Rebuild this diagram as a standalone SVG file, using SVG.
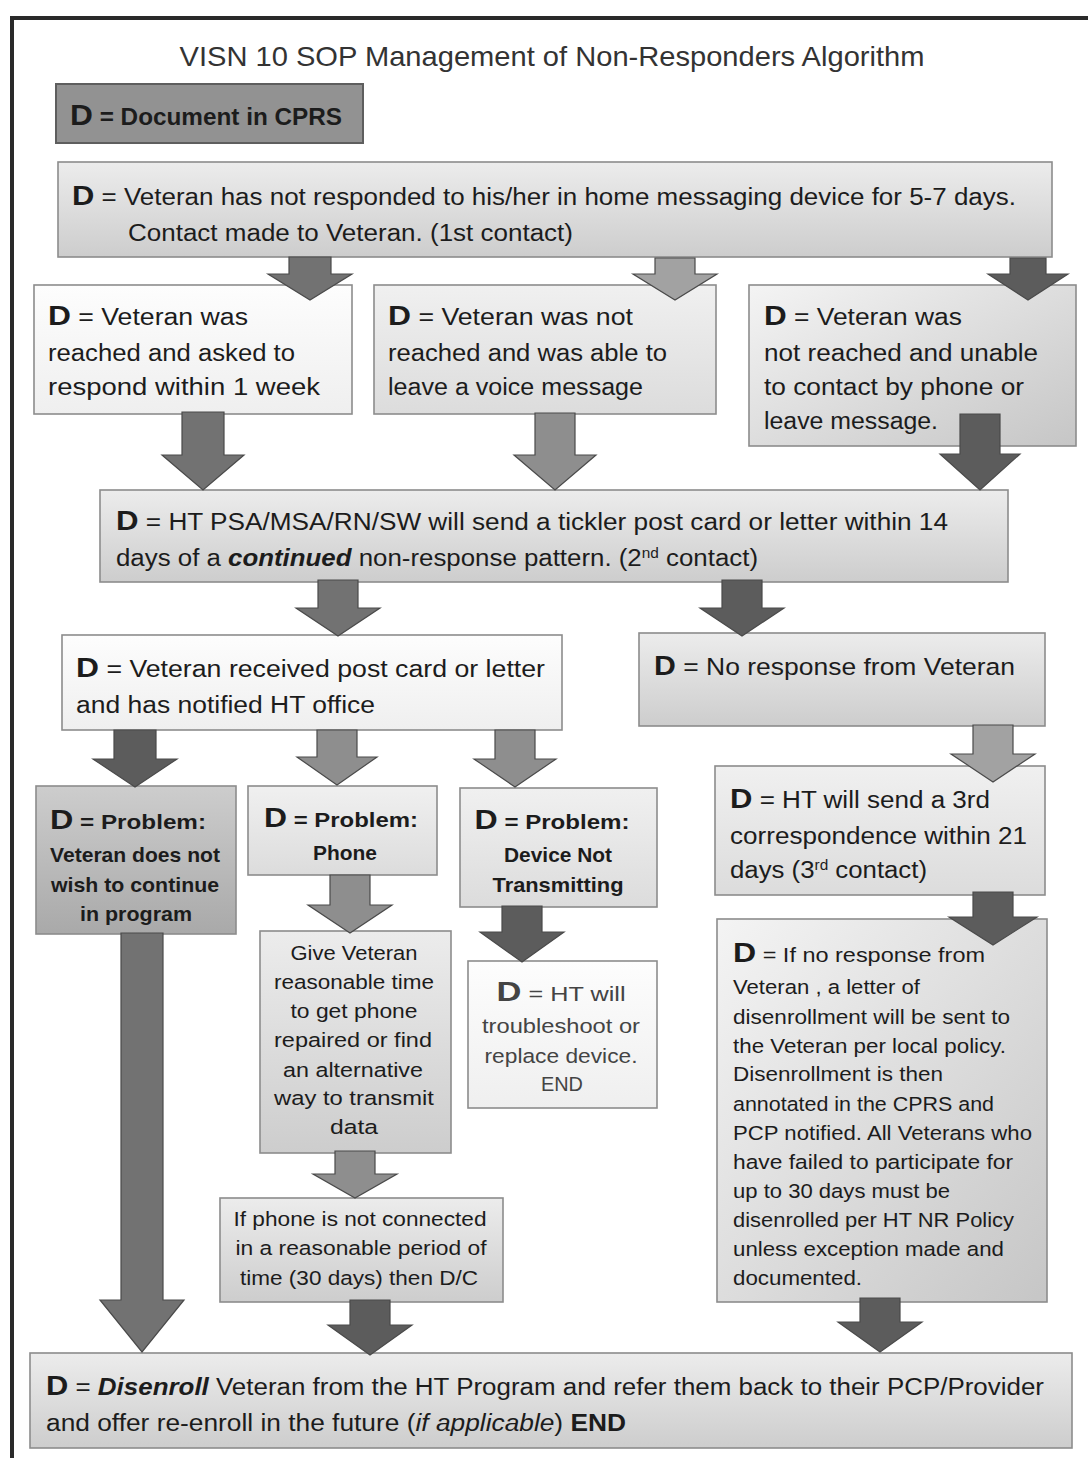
<svg xmlns="http://www.w3.org/2000/svg" width="1088" height="1458" viewBox="0 0 1088 1458">
<defs>
<linearGradient id="gWhite" x1="0" y1="0" x2="0" y2="1"><stop offset="0" stop-color="#fdfdfd"/><stop offset="1" stop-color="#efefef"/></linearGradient>
<linearGradient id="gLight" x1="0" y1="0" x2="0" y2="1"><stop offset="0" stop-color="#f0f0f0"/><stop offset="1" stop-color="#dcdcdc"/></linearGradient>
<linearGradient id="gMed" x1="0" y1="0" x2="0" y2="1"><stop offset="0" stop-color="#ececec"/><stop offset="1" stop-color="#cdcdcd"/></linearGradient>
<linearGradient id="gDiag" x1="0" y1="0" x2="1" y2="1"><stop offset="0" stop-color="#f4f4f4"/><stop offset="1" stop-color="#c6c6c6"/></linearGradient>
<linearGradient id="gDark" x1="0" y1="0" x2="0" y2="1"><stop offset="0" stop-color="#cdcdcd"/><stop offset="1" stop-color="#a9a9a9"/></linearGradient>
<style>
text{font-family:"Liberation Sans",Arial,sans-serif;fill:#1c1c1c;}
.box{stroke:#8c8c8c;stroke-width:1.6;}
.t22{font-size:23.5px;}
.t23{font-size:24.5px;}
.t20{font-size:21px;}
.t19{font-size:20.5px;}
.d{font-weight:bold;font-size:28px;}
.b{font-weight:bold;}
.c{text-anchor:middle;}
.arr{stroke:#4a4a4a;stroke-width:1.2;}
.a1{fill:#5c5c5c;}
.a2{fill:#727272;}
.a3{fill:#8e8e8e;}
.a4{fill:#a2a2a2;}
</style>
</defs>
<rect width="1088" height="1458" fill="#ffffff"/>
<g id="frame">
<rect x="10" y="16" width="1078" height="4" fill="#2a2a2a"/>
<rect x="10" y="16" width="4" height="1442" fill="#2a2a2a"/>
</g>
<g id="title"><text x="552" y="66" class="c" style="font-size:28px;fill:#333" textLength="745" lengthAdjust="spacingAndGlyphs">VISN 10 SOP Management of Non-Responders Algorithm</text></g>
<g id="legend">
<rect x="56" y="84" width="307" height="59" fill="#929292" stroke="#5e5e5e" stroke-width="2"/>
<text x="70" y="125" style="font-size:23px" class="b" textLength="272" lengthAdjust="spacingAndGlyphs"><tspan style="font-size:30px">D</tspan> = Document in CPRS</text>
</g>
<g id="n_start">
<rect class="box" x="58" y="162" width="994" height="95" fill="url(#gMed)"/>
<text x="72" y="205" class="t22" textLength="944" lengthAdjust="spacingAndGlyphs"><tspan class="d">D</tspan> = Veteran has not responded to his/her in home messaging device for 5-7 days.</text>
<text x="128" y="241" class="t22" textLength="445" lengthAdjust="spacingAndGlyphs">Contact made to Veteran. (1st contact)</text>
</g>
<g id="n_reached">
<rect class="box" x="34" y="285" width="318" height="129" fill="url(#gWhite)"/>
<text x="48" y="325" class="t22" textLength="200" lengthAdjust="spacingAndGlyphs"><tspan class="d">D</tspan> = Veteran was</text>
<text x="48" y="361" class="t22" textLength="247" lengthAdjust="spacingAndGlyphs">reached and asked to</text>
<text x="48" y="395" class="t22" textLength="272" lengthAdjust="spacingAndGlyphs">respond  within 1 week</text>
</g>
<g id="n_voicemsg">
<rect class="box" x="374" y="285" width="342" height="129" fill="url(#gLight)"/>
<text x="388" y="325" class="t22" textLength="245" lengthAdjust="spacingAndGlyphs"><tspan class="d">D</tspan> = Veteran was not</text>
<text x="388" y="361" class="t22" textLength="279" lengthAdjust="spacingAndGlyphs">reached and was able to</text>
<text x="388" y="395" class="t22" textLength="255" lengthAdjust="spacingAndGlyphs">leave a voice message</text>
</g>
<g id="n_notreached">
<rect class="box" x="749" y="285" width="327" height="161" fill="url(#gDiag)"/>
<text x="764" y="325" class="t22" textLength="198" lengthAdjust="spacingAndGlyphs"><tspan class="d">D</tspan> = Veteran was</text>
<text x="764" y="361" class="t22" textLength="274" lengthAdjust="spacingAndGlyphs">not reached and unable</text>
<text x="764" y="395" class="t22" textLength="260" lengthAdjust="spacingAndGlyphs">to contact by phone or</text>
<text x="764" y="429" class="t22" textLength="174" lengthAdjust="spacingAndGlyphs">leave message.</text>
</g>
<g id="n_tickler">
<rect class="box" x="100" y="490" width="908" height="92" fill="url(#gMed)"/>
<text x="116" y="530" class="t22" textLength="832" lengthAdjust="spacingAndGlyphs"><tspan class="d">D</tspan> = HT PSA/MSA/RN/SW  will send a tickler post card or letter within 14</text>
<text x="116" y="566" class="t22" textLength="642" lengthAdjust="spacingAndGlyphs">days of a  <tspan class="b" font-style="italic">continued</tspan> non-response pattern. (2<tspan dy="-8" style="font-size:14px">nd</tspan><tspan dy="8"> contact)</tspan></text>
</g>
<g id="n_received">
<rect class="box" x="62" y="635" width="500" height="95" fill="url(#gWhite)"/>
<text x="76" y="677" class="t22" textLength="469" lengthAdjust="spacingAndGlyphs"><tspan class="d">D</tspan> = Veteran received post card or letter</text>
<text x="76" y="713" class="t22" textLength="299" lengthAdjust="spacingAndGlyphs">and has notified HT office</text>
</g>
<g id="n_noresponse">
<rect class="box" x="639" y="633" width="406" height="93" fill="url(#gMed)"/>
<text x="654" y="675" class="t23" textLength="361" lengthAdjust="spacingAndGlyphs"><tspan class="d">D</tspan> = No response from Veteran</text>
</g>
<g id="n_nowish">
<rect class="box" x="36" y="786" width="200" height="148" fill="url(#gDark)"/>
<text x="128" y="829" class="t20 c b" textLength="156" lengthAdjust="spacingAndGlyphs"><tspan class="d">D</tspan> = Problem:</text>
<text x="135" y="862" class="t19 c b" textLength="170" lengthAdjust="spacingAndGlyphs">Veteran does not</text>
<text x="135" y="892" class="t19 c b" textLength="168" lengthAdjust="spacingAndGlyphs">wish to continue</text>
<text x="136" y="921" class="t19 c b" textLength="112" lengthAdjust="spacingAndGlyphs">in program</text>
</g>
<g id="n_phone">
<rect class="box" x="248" y="786" width="189" height="89" fill="url(#gLight)"/>
<text x="341" y="827" class="t20 c b" textLength="154" lengthAdjust="spacingAndGlyphs"><tspan class="d">D</tspan> = Problem:</text>
<text x="345" y="860" class="t19 c b" textLength="64" lengthAdjust="spacingAndGlyphs">Phone</text>
</g>
<g id="n_device">
<rect class="box" x="460" y="788" width="197" height="119" fill="url(#gLight)"/>
<text x="552" y="829" class="t20 c b" textLength="155" lengthAdjust="spacingAndGlyphs"><tspan class="d">D</tspan> = Problem:</text>
<text x="558" y="862" class="t19 c b" textLength="108" lengthAdjust="spacingAndGlyphs">Device Not</text>
<text x="558" y="892" class="t19 c b" textLength="131" lengthAdjust="spacingAndGlyphs">Transmitting</text>
</g>
<g id="n_third">
<rect class="box" x="715" y="766" width="330" height="129" fill="url(#gLight)"/>
<text x="730" y="808" class="t22" textLength="260" lengthAdjust="spacingAndGlyphs"><tspan class="d">D</tspan> = HT will send a 3rd</text>
<text x="730" y="844" class="t22" textLength="297" lengthAdjust="spacingAndGlyphs">correspondence within 21</text>
<text x="730" y="878" class="t22" textLength="197" lengthAdjust="spacingAndGlyphs">days (3<tspan dy="-8" style="font-size:14px">rd</tspan><tspan dy="8"> contact)</tspan></text>
</g>
<g id="n_givetime">
<rect class="box" x="260" y="931" width="191" height="222" fill="url(#gMed)"/>
<text x="354" y="960" class="t19 c" textLength="127" lengthAdjust="spacingAndGlyphs">Give Veteran</text>
<text x="354" y="989" class="t19 c" textLength="160" lengthAdjust="spacingAndGlyphs">reasonable time</text>
<text x="354" y="1018" class="t19 c" textLength="127" lengthAdjust="spacingAndGlyphs">to get phone</text>
<text x="353" y="1047" class="t19 c" textLength="158" lengthAdjust="spacingAndGlyphs">repaired or find</text>
<text x="353" y="1077" class="t19 c" textLength="140" lengthAdjust="spacingAndGlyphs">an alternative</text>
<text x="354" y="1105" class="t19 c" textLength="160" lengthAdjust="spacingAndGlyphs">way to transmit</text>
<text x="354" y="1134" class="t19 c" textLength="48" lengthAdjust="spacingAndGlyphs">data</text>
</g>
<g id="n_troubleshoot">
<rect class="box" x="468" y="961" width="189" height="147" fill="url(#gWhite)"/>
<text x="561" y="1001" class="t19 c" style="fill:#444" textLength="129" lengthAdjust="spacingAndGlyphs"><tspan class="d">D</tspan> = HT will</text>
<text x="561" y="1033" class="t19 c" style="fill:#444" textLength="158" lengthAdjust="spacingAndGlyphs">troubleshoot or</text>
<text x="561" y="1063" class="t19 c" style="fill:#444" textLength="153" lengthAdjust="spacingAndGlyphs">replace device.</text>
<text x="562" y="1091" class="t19 c" style="fill:#444" textLength="42" lengthAdjust="spacingAndGlyphs">END</text>
</g>
<g id="n_disenroll_letter">
<rect class="box" x="717" y="919" width="330" height="383" fill="url(#gDiag)"/>
<text x="733" y="962" class="t19" textLength="252" lengthAdjust="spacingAndGlyphs"><tspan class="d">D</tspan> = If no response from</text>
<text x="733" y="994" class="t19" textLength="187" lengthAdjust="spacingAndGlyphs">Veteran , a letter of</text>
<text x="733" y="1024" class="t19" textLength="277" lengthAdjust="spacingAndGlyphs">disenrollment will be sent to</text>
<text x="733" y="1053" class="t19" textLength="273" lengthAdjust="spacingAndGlyphs">the Veteran per local policy.</text>
<text x="733" y="1081" class="t19" textLength="210" lengthAdjust="spacingAndGlyphs">Disenrollment is then</text>
<text x="733" y="1111" class="t19" textLength="261" lengthAdjust="spacingAndGlyphs">annotated in the CPRS and</text>
<text x="733" y="1140" class="t19" textLength="299" lengthAdjust="spacingAndGlyphs">PCP notified. All Veterans who</text>
<text x="733" y="1169" class="t19" textLength="280" lengthAdjust="spacingAndGlyphs">have failed to participate for</text>
<text x="733" y="1198" class="t19" textLength="217" lengthAdjust="spacingAndGlyphs">up to 30 days must be</text>
<text x="733" y="1227" class="t19" textLength="281" lengthAdjust="spacingAndGlyphs">disenrolled per HT NR Policy</text>
<text x="733" y="1256" class="t19" textLength="271" lengthAdjust="spacingAndGlyphs">unless exception made and</text>
<text x="733" y="1285" class="t19" textLength="129" lengthAdjust="spacingAndGlyphs">documented.</text>
</g>
<g id="n_notconnected">
<rect class="box" x="220" y="1198" width="283" height="104" fill="url(#gMed)"/>
<text x="360" y="1226" class="t19 c" textLength="253" lengthAdjust="spacingAndGlyphs">If phone is not connected</text>
<text x="361" y="1255" class="t19 c" textLength="251" lengthAdjust="spacingAndGlyphs">in a reasonable period of</text>
<text x="359" y="1285" class="t19 c" textLength="238" lengthAdjust="spacingAndGlyphs">time (30 days) then D/C</text>
</g>
<g id="n_end">
<rect class="box" x="30" y="1353" width="1042" height="95" fill="url(#gMed)"/>
<text x="46" y="1395" class="t22" textLength="998" lengthAdjust="spacingAndGlyphs"><tspan class="d">D</tspan> = <tspan class="b" font-style="italic">Disenroll</tspan> Veteran from the HT Program and refer them back to their PCP/Provider</text>
<text x="46" y="1431" class="t22" textLength="580" lengthAdjust="spacingAndGlyphs">and offer re-enroll in the future (<tspan font-style="italic">if applicable</tspan>) <tspan class="b">END</tspan></text>
</g>
<g id="connectors">
<path class="arr a2" d="M289,257H331V274H352L310,300L268,274H289Z"/>
<path class="arr a4" d="M655,258H695V274H717L675,300L633,274H655Z"/>
<path class="arr a1" d="M1010,258H1046V274H1068L1028,300L988,274H1010Z"/>
<path class="arr a2" d="M182,412H224V455H244L203,490L162,455H182Z"/>
<path class="arr a3" d="M535,413H575V455H596L555,490L514,455H535Z"/>
<path class="arr a1" d="M960,414H1000V454H1020L980,490L940,454H960Z"/>
<path class="arr a2" d="M318,580H358V608H380L338,636L296,608H318Z"/>
<path class="arr a1" d="M722,580H762V608H784L742,636L700,608H722Z"/>
<path class="arr a1" d="M114,730H156V759H177L135,787L93,759H114Z"/>
<path class="arr a3" d="M317,730H357V757H377L337,785L297,757H317Z"/>
<path class="arr a3" d="M495,730H535V759H556L515,787L474,759H495Z"/>
<path class="arr a4" d="M973,725H1013V754H1035L993,782L951,754H973Z"/>
<path class="arr a2" d="M121,933H163V1300H184L142,1352L100,1300H121Z"/>
<path class="arr a3" d="M330,875H370V905H392L350,933L308,905H330Z"/>
<path class="arr a1" d="M502,906H542V932H564L522,962L480,932H502Z"/>
<path class="arr a1" d="M973,892H1013V917H1037L993,945L949,917H973Z"/>
<path class="arr a3" d="M335,1151H375V1174H397L355,1198L313,1174H335Z"/>
<path class="arr a1" d="M350,1300H390V1325H412L370,1355L328,1325H350Z"/>
<path class="arr a1" d="M860,1298H900V1322H922L880,1352L838,1322H860Z"/>
</g>
</svg>
